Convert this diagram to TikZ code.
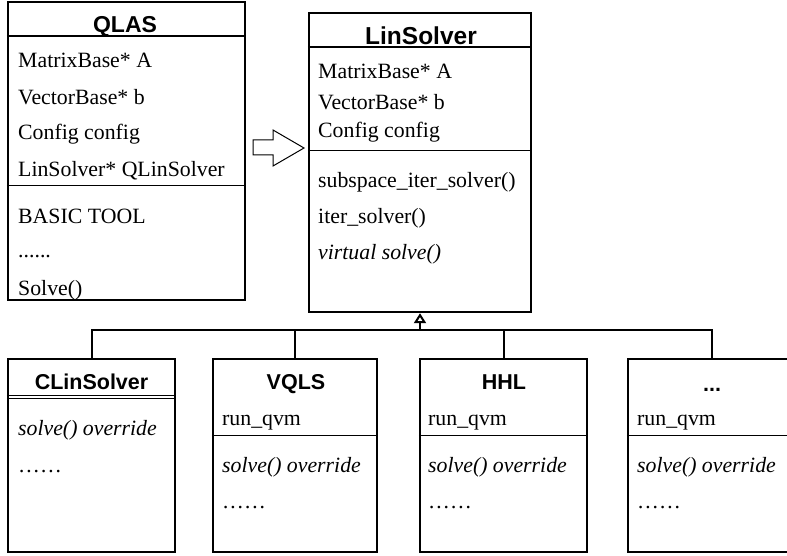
\documentclass[tikz,border=0pt]{standalone}
\usepackage{fontspec}
\setmainfont{Liberation Serif}
\newfontfamily\titlefont{Liberation Sans}
\usetikzlibrary{positioning,arrows.meta,calc}

\begin{document}
\begin{tikzpicture}[x=1pt,y=-1pt,
    classbox/.style={draw, line width=2.4pt, inner sep=0pt},
    ctitle/.style={anchor=base, inner sep=0pt, font=\titlefont\fontsize{#1}{#1}\bfseries},
    ctitle/.default=21.5,
    member/.style={anchor=base west, inner sep=0pt, font=\fontsize{21.8}{24}\selectfont},
    titlesep/.style={line width=1.8pt},
    thinsep/.style={line width=0.9pt},
    link/.style={line width=2pt}]
    \useasboundingbox (0,0) rectangle (787,556);
    % top row
    \node[classbox, minimum width=237pt, minimum height=298pt] (qlas) at (126.5,151) {};
    \draw[titlesep] ([yshift=-35pt]qlas.north west) -- ([yshift=-35pt]qlas.north east);
    \draw[thinsep] ([yshift=-185pt]qlas.north west) -- ([yshift=-185pt]qlas.north east);
    \node[ctitle=23] (qlastitle) at (125,33) {QLAS};
    \node[member] (qa) at (18,68) {MatrixBase* A};
    \node[member] (qb) at (18,105) {VectorBase* b};
    \node[member] (qc) at (18,140) {Config config};
    \node[member] (qd) at (18,177) {LinSolver* QLinSolver};
    \node[member] (qe) at (18,223) {BASIC TOOL};
    \node[member] (qf) at (18,258) {......};
    \node[member] (qg) at (18,295) {Solve()};

    \node[classbox, minimum width=222pt, minimum height=299pt] (lin) at (420,162.5) {};
    \draw[titlesep] ([yshift=-35pt]lin.north west) -- ([yshift=-35pt]lin.north east);
    \draw[thinsep] ([yshift=-139pt]lin.north west) -- ([yshift=-139pt]lin.north east);
    \node[ctitle=24.5] (lintitle) at (421,45) {LinSolver};
    \node[member] (la) at (318,79) {MatrixBase* A};
    \node[member] (lb) at (318,110) {VectorBase* b};
    \node[member] (lc) at (318,138) {Config config};
    \node[member] (ld) at (318,188) {subspace\_iter\_solver()};
    \node[member] (le) at (318,223) {iter\_solver()};
    \node[member] (lf) at (318,259) {\itshape virtual solve()};

    \draw[line width=1pt] (253,140) -- (273,140) -- (273,130) -- (304,148)
        -- (273,166) -- (273,155) -- (253,155) -- cycle;

    % bottom row
    \node[classbox, minimum width=167pt, minimum height=193pt] (cls) at (91.5,455.5) {};
    \draw[thinsep] ([yshift=-38pt]cls.north west) -- ([yshift=-38pt]cls.north east);
    \draw[thinsep] ([yshift=-41pt]cls.north west) -- ([yshift=-41pt]cls.north east);
    \node[ctitle] (clstitle) at (91.5,389) {CLinSolver};
    \node[member] (ca) at (18,435) {\itshape solve() override};
    \node[member] (cb) at (18,472) {……};

    \node[classbox, minimum width=164pt, minimum height=193pt] (vqls) at (295,455.5) {};
    \draw[thinsep] ([yshift=-78pt]vqls.north west) -- ([yshift=-78pt]vqls.north east);
    \node[ctitle] (vqlstitle) at (296,389) {VQLS};
    \node[member] (va) at (222,425) {run\_qvm};
    \node[member] (vb) at (222,472) {\itshape solve() override};
    \node[member] (vc) at (222,508) {……};

    \node[classbox, minimum width=167pt, minimum height=193pt] (hhl) at (503.5,455.5) {};
    \draw[thinsep] ([yshift=-78pt]hhl.north west) -- ([yshift=-78pt]hhl.north east);
    \node[ctitle] (hhltitle) at (504,389) {HHL};
    \node[member] (ha) at (428,425) {run\_qvm};
    \node[member] (hb) at (428,472) {\itshape solve() override};
    \node[member] (hc) at (428,508) {……};

    \node[classbox, minimum width=168pt, minimum height=193pt] (more) at (712,455.5) {};
    \draw[thinsep] ([yshift=-78pt]more.north west) -- ([yshift=-78pt]more.north east);
    \node[ctitle] (moretitle) at (712,391) {...};
    \node[member] (ma) at (637,425) {run\_qvm};
    \node[member] (mb) at (637,472) {\itshape solve() override};
    \node[member] (mc) at (637,508) {……};

    % inheritance
    \coordinate (bus) at (420,330);
    \draw[link] (cls.north) |- (bus) -| (more.north);
    \draw[link] (vqls.north) -- (vqls.north |- bus);
    \draw[link] (hhl.north) -- (hhl.north |- bus);
    \draw[link, -{Triangle[open, length=10pt, width=12pt]}] (bus) -- (lin.south);
  \end{tikzpicture}
\end{document}
